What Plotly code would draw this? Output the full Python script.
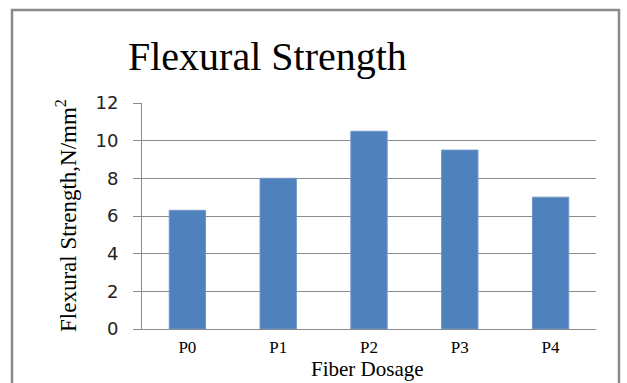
import plotly.graph_objects as go

# Flexural strength by fiber dosage
categories = ["P0", "P1", "P2", "P3", "P4"]
strength = [6.3, 8.0, 10.5, 9.5, 7.0]
y_ticks = [0, 2, 4, 6, 8, 10, 12]

W, H = 627, 383
L, R, T, B = 142, 31, 103, 54
PW, PH = W - L - R, H - T - B
serif = "Liberation Serif, Times New Roman, serif"
sans = "DejaVu Sans, Verdana, sans-serif"


def px_x(x):
    return (x - L) / PW


def px_y(y):
    return (H - B - y) / PH


fig = go.Figure(
    go.Bar(
        x=categories,
        y=strength,
        marker=dict(color="#4F81BD", line=dict(color="#6E96C8", width=1)),
        width=0.4,
    )
)

fig.update_layout(
    width=W,
    height=H,
    margin=dict(l=L, r=R, t=T, b=B),
    paper_bgcolor="white",
    plot_bgcolor="white",
    showlegend=False,
    xaxis=dict(
        showgrid=False,
        showline=True,
        linecolor="#8c8c8c",
        linewidth=1,
        ticks="",
        tickfont=dict(family=serif, size=17, color="black"),
        ticklabelstandoff=3,
    ),
    yaxis=dict(
        range=[0, 12],
        tickvals=y_ticks,
        showgrid=True,
        gridcolor="#8c8c8c",
        gridwidth=1,
        showline=True,
        linecolor="#8c8c8c",
        linewidth=1,
        ticks="outside",
        ticklen=8,
        tickcolor="#8c8c8c",
        tickfont=dict(family=sans, size=18, color="#222"),
        ticklabelstandoff=11,
        zeroline=False,
    ),
    annotations=[
        dict(
            text="Flexural Strength",
            xref="paper", yref="paper",
            x=px_x(267), y=px_y(56),
            xanchor="center", yanchor="middle",
            showarrow=False,
            font=dict(family=serif, size=40, color="black"),
        ),
        dict(
            text="Flexural Strength,N/mm<sup>2</sup>",
            xref="paper", yref="paper",
            x=px_x(66), y=px_y(216),
            xanchor="center", yanchor="middle",
            textangle=-90,
            showarrow=False,
            font=dict(family=serif, size=23, color="black"),
        ),
        dict(
            text="Fiber Dosage",
            xref="paper", yref="paper",
            x=px_x(367), y=px_y(369),
            xanchor="center", yanchor="middle",
            showarrow=False,
            font=dict(family=serif, size=21, color="black"),
        ),
    ],
    shapes=[
        # chart frame
        dict(
            type="rect",
            xref="paper", yref="paper",
            x0=px_x(12), x1=px_x(619),
            y0=px_y(400), y1=px_y(10),
            line=dict(color="#8a8a8a", width=2.5),
            layer="below",
        )
    ],
)

fig.write_html("out.html")
